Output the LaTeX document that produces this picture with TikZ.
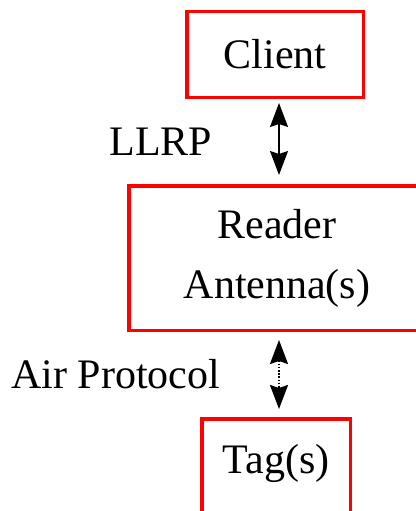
\documentclass[tikz,border=0pt]{standalone}
\usepackage{fontspec}
\setmainfont{Liberation Serif}
\usetikzlibrary{arrows.meta}
\tikzset{
  unitbox/.style={draw=red,line width=3.5pt,inner sep=0pt,align=center,
    font=\fontsize{42}{60}\selectfont},
  label/.style={inner sep=0pt,font=\fontsize{42}{60}\selectfont},
  link/.style={line width=1.4pt,{Stealth[length=24pt,width=18pt,inset=3pt]}-{Stealth[length=24pt,width=18pt,inset=3pt]}}
}
\begin{document}
\begin{tikzpicture}[x=1pt,y=-1pt]
	\useasboundingbox (0,0) rectangle (415,511);
	\node[unitbox,minimum width=176.5pt,minimum height=85.5pt] (client) at (275,54.5) {Client};
	\node[unitbox,minimum width=296.5pt,minimum height=144.5pt] (reader) at (277,258) {Reader\\Antenna(s)};
	\node[unitbox,anchor=base,minimum width=148.5pt,text height=30pt,text depth=40pt,inner ysep=24.25pt] (tag) at (276,473) {Tag(s)};
	%
	\draw[link,shorten <=4pt,shorten >=9pt] ([xshift=4pt]client.south) -- node[midway,left=66pt,label] (llrp) {LLRP} ([xshift=2pt]reader.north);
	\draw[link,shorten <=8pt,shorten >=8pt,dash pattern=on 1.6pt off 1.6pt,line width=2pt] ([xshift=2pt]reader.south) -- node[midway,left=58pt,label] (air) {Air Protocol} ([xshift=3pt]tag.north);
\end{tikzpicture}
\end{document}
